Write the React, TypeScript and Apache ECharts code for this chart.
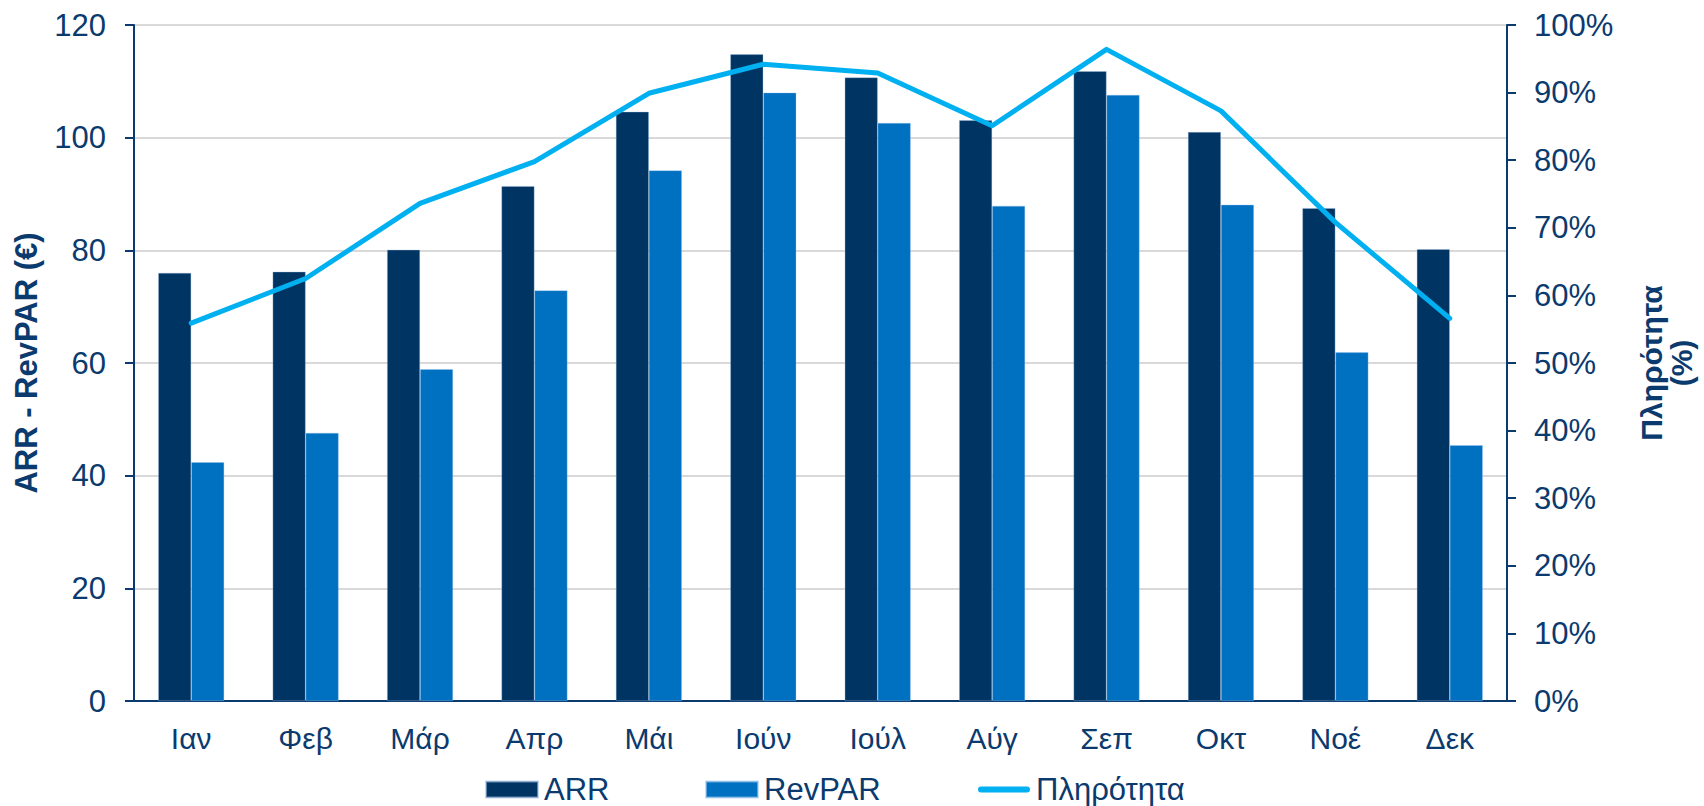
import React, { useEffect, useRef } from "react";
import * as echarts from "echarts";

const months = ["Ιαν", "Φεβ", "Μάρ", "Απρ", "Μάι", "Ιούν", "Ιούλ", "Αύγ", "Σεπ", "Οκτ", "Νοέ", "Δεκ"];
const arr = [76.0, 76.2, 80.1, 91.4, 104.6, 114.8, 110.7, 103.1, 111.8, 101.0, 87.5, 80.2];
const revpar = [42.4, 47.6, 58.9, 72.9, 94.2, 108.0, 102.6, 87.9, 107.6, 88.1, 61.9, 45.4];
const occupancy = [55.9, 62.5, 73.6, 79.8, 89.9, 94.2, 92.9, 85.1, 96.4, 87.3, 70.8, 56.6];

const TEXT = "#0b3a6e";
const FONT = "'Liberation Sans', Arial, sans-serif";
const LINE_ICON = "path://M3,0 L49,0 A3,3 0 0 1 49,6 L3,6 A3,3 0 0 1 3,0 Z";

const legendBase = {
  top: 774,
  itemWidth: 52,
  itemHeight: 16,
  padding: 0,
  textStyle: { fontFamily: FONT, fontSize: 31, lineHeight: 30, color: TEXT, padding: [0, 0, 0, 1] },
};

export default function App() {
  const ref = useRef<HTMLDivElement>(null);
  useEffect(() => {
    if (!ref.current) return;
    const chart = echarts.init(ref.current, undefined, { renderer: "svg" });
    chart.setOption({
      animation: false,
      textStyle: { fontFamily: FONT, color: TEXT },
      grid: { left: 134, right: 193, top: 25, bottom: 105, containLabel: false },
      legend: [
        { ...legendBase, left: 485, data: [{ name: "ARR", icon: "rect" }] },
        { ...legendBase, left: 705, data: [{ name: "RevPAR", icon: "rect" }] },
        {
          ...legendBase,
          left: 978,
          data: [{ name: "Πληρότητα", icon: LINE_ICON, itemStyle: { color: "#00b0f0", borderWidth: 0 } }],
        },
      ],
      xAxis: {
        type: "category",
        data: months,
        axisLine: { lineStyle: { color: "#0b3a6e", width: 2 } },
        axisTick: { show: false },
        axisLabel: { fontSize: 30, color: TEXT, margin: 22, fontFamily: FONT },
      },
      yAxis: [
        {
          type: "value",
          min: 0,
          max: 120,
          interval: 20,
          name: "ARR - RevPAR (€)",
          nameLocation: "middle",
          nameGap: 92,
          nameTextStyle: { fontSize: 31, fontWeight: "bold", color: TEXT, fontFamily: FONT },
          axisLine: { show: true, lineStyle: { color: "#0b3a6e", width: 2 } },
          axisTick: { show: true, length: 9, lineStyle: { color: "#0b3a6e", width: 2 } },
          axisLabel: { fontSize: 31, color: TEXT, margin: 28, fontFamily: FONT },
          splitLine: { show: true, lineStyle: { color: "#d9d9d9", width: 2 } },
        },
        {
          type: "value",
          min: 0,
          max: 100,
          interval: 10,
          name: "Πληρότητα\n(%)",
          nameLocation: "middle",
          nameGap: 129,
          nameTextStyle: { fontSize: 30, fontWeight: "bold", color: TEXT, fontFamily: FONT, align: "center", lineHeight: 30 },
          axisLine: { show: true, lineStyle: { color: "#0b3a6e", width: 2 } },
          axisTick: { show: true, length: 9, lineStyle: { color: "#0b3a6e", width: 2 } },
          axisLabel: { fontSize: 31, color: TEXT, margin: 27, fontFamily: FONT, formatter: "{value}%" },
          splitLine: { show: false },
        },
      ],
      series: [
        {
          name: "ARR",
          type: "bar",
          data: arr,
          barWidth: 33,
          barGap: "0%",
          itemStyle: { color: "#003462", borderColor: "rgba(160,190,230,0.6)", borderWidth: 0.6 },
        },
        {
          name: "RevPAR",
          type: "bar",
          data: revpar,
          barWidth: 33,
          barGap: "0%",
          itemStyle: { color: "#0070c0", borderColor: "rgba(160,200,240,0.6)", borderWidth: 0.6 },
        },
        {
          name: "Πληρότητα",
          type: "line",
          yAxisIndex: 1,
          data: occupancy,
          symbol: "none",
          lineStyle: { color: "#00b0f0", width: 5, cap: "round", join: "round" },
          itemStyle: { color: "#00b0f0" },
        },
      ],
    });
    return () => chart.dispose();
  }, []);
  return (
    <div
      ref={ref}
      style={{ position: "absolute", left: 0, top: 0, width: 1704, height: 806, background: "#fff" }}
    />
  );
}
